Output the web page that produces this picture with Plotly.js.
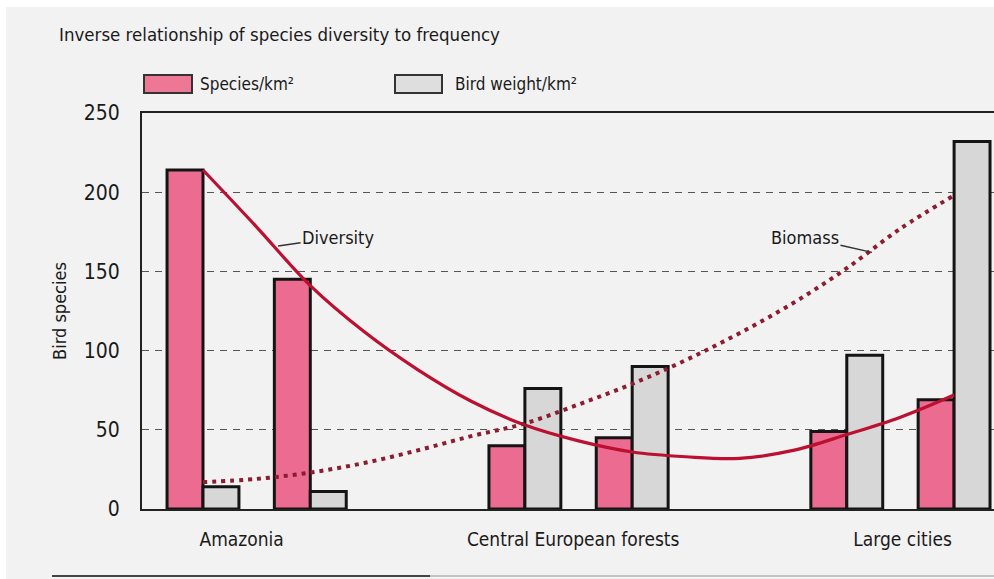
<!DOCTYPE html>
<html>
<head>
<meta charset="utf-8">
<script src="https://cdn.plot.ly/plotly-3.0.1.min.js"></script>
<style>
  html, body { margin: 0; padding: 0; background: #ffffff; }
  #chart { width: 994px; height: 579px; }
</style>
</head>
<body>
<div id="chart"></div>
<script>
// ---------- data ----------
const categories = ['Amazonia', 'Central European forests', 'Large cities'];
const seriesNames = ['Species/km\u00b2', 'Bird weight/km\u00b2'];
// two sample sites per region (pink = species, grey = bird weight)
const speciesPerKm2 = [214, 145, 40, 45, 49, 69];
const birdWeightPerKm2 = [14, 11, 76, 90, 97, 232];
const siteGroup = [0, 0, 1, 1, 2, 2];
const siteIndex = [0, 1, 0, 1, 0, 1];

// trend curves (position along the site axis, value)
const curveX = [0, 0.5, 1, 1.5, 2, 2.5, 3, 3.5, 4, 4.5, 5, 5.5, 6, 6.5, 7];
const diversityY = [214, 178, 141, 112, 88, 68, 53, 43, 36, 33, 32, 37, 47, 58, 72];
const biomassY = [17, 19, 23, 29, 37, 46, 54, 66, 79, 94, 111, 130, 152, 177, 198];

const title = 'Inverse relationship of species diversity to frequency';
const yTitle = 'Bird species';
const yTicks = [0, 50, 100, 150, 200, 250];

// ---------- layout helpers ----------
const siteX = siteGroup.map((g, i) => g * 3 + siteIndex[i]);
const groupCentre = categories.map((c, g) => g * 3 + 0.5);
const FONT = '"Liberation Sans Narrow", "DejaVu Sans Condensed", "Roboto Condensed", "Liberation Sans", sans-serif';
const BW = 0.335;

const traces = [
  {
    type: 'bar', x: siteX, y: speciesPerKm2, name: seriesNames[0],
    width: BW, offset: -BW,
    marker: { color: '#ec6b90', line: { color: '#141414', width: 3 } },
    showlegend: false, hoverinfo: 'y'
  },
  {
    type: 'bar', x: siteX, y: birdWeightPerKm2, name: seriesNames[1],
    width: BW, offset: 0,
    marker: { color: '#d7d7d7', line: { color: '#141414', width: 3 } },
    showlegend: false, hoverinfo: 'y'
  },
  {
    type: 'scatter', mode: 'lines', x: curveX, y: diversityY, name: 'Diversity',
    line: { color: '#bb1030', width: 3.2, shape: 'spline', smoothing: 1 },
    showlegend: false
  },
  {
    type: 'scatter', mode: 'lines', x: curveX, y: biomassY, name: 'Biomass',
    line: { color: '#8c1c30', width: 4, shape: 'spline', smoothing: 1, dash: '4px,5px' },
    showlegend: false
  }
];

const layout = {
  width: 994, height: 579,
  margin: { l: 142, r: 0, t: 113, b: 70 },
  paper_bgcolor: '#ffffff',
  plot_bgcolor: 'rgba(0,0,0,0)',
  font: { family: FONT, color: '#222', size: 16 },
  barmode: 'overlay',
  xaxis: {
    range: [-0.5685, 7.372],
    tickvals: [groupCentre[0] - 0.14, groupCentre[1] - 0.05, groupCentre[2] + 0.02],
    ticktext: categories,
    tickfont: { family: FONT, size: 19, color: '#1a1a1a' },
    ticks: '', ticklabelstandoff: 12,
    showgrid: false, zeroline: false,
    showline: true, linecolor: '#222', linewidth: 2, mirror: true
  },
  yaxis: {
    range: [0, 250],
    tickvals: yTicks,
    tickfont: { family: FONT, size: 21, color: '#1a1a1a' },
    ticks: '', ticklabelstandoff: 16,
    showgrid: true, gridcolor: '#555', gridwidth: 1.3, griddash: '7px,6px',
    zeroline: false,
    showline: true, linecolor: '#222', linewidth: 2,
    title: { text: yTitle, font: { family: FONT, size: 18, color: '#1a1a1a' }, standoff: 12 }
  },
  shapes: [
    // page background
    { type: 'rect', xref: 'paper', yref: 'paper', layer: 'below',
      x0: -136 / 852, x1: 1, y0: -70 / 396, y1: (396 + 106) / 396,
      fillcolor: '#f2f2f2', line: { width: 0 } },
    // legend swatches
    { type: 'rect', xref: 'paper', yref: 'paper',
      x0: (144 - 142) / 852, x1: (192 - 142) / 852,
      y0: (509 - 93) / 396, y1: (509 - 75) / 396,
      fillcolor: '#ef7796', line: { color: '#333', width: 2 } },
    { type: 'rect', xref: 'paper', yref: 'paper',
      x0: (395 - 142) / 852, x1: (442 - 142) / 852,
      y0: (509 - 93) / 396, y1: (509 - 75) / 396,
      fillcolor: '#dedede', line: { color: '#333', width: 2 } },
    // rule at the bottom of the page
    { type: 'line', xref: 'paper', yref: 'paper',
      x0: (52 - 142) / 852, x1: (430 - 142) / 852,
      y0: (509 - 576) / 396, y1: (509 - 576) / 396,
      line: { color: '#444', width: 2 } },
    { type: 'line', xref: 'paper', yref: 'paper',
      x0: (430 - 142) / 852, x1: 1,
      y0: (509 - 576) / 396, y1: (509 - 576) / 396,
      line: { color: '#c4c4c4', width: 2 } }
  ],
  annotations: [
    { xref: 'paper', yref: 'paper', x: (57 - 142) / 852, y: (509 - 34) / 396,
      xanchor: 'left', yanchor: 'middle', showarrow: false,
      text: title, font: { family: FONT, size: 18.5, color: '#1a1a1a' } },
    { xref: 'paper', yref: 'paper', x: (198 - 142) / 852, y: (509 - 84) / 396,
      xanchor: 'left', yanchor: 'middle', showarrow: false,
      text: seriesNames[0], font: { family: FONT, size: 17, color: '#1a1a1a' } },
    { xref: 'paper', yref: 'paper', x: (453 - 142) / 852, y: (509 - 84) / 396,
      xanchor: 'left', yanchor: 'middle', showarrow: false,
      text: seriesNames[1], font: { family: FONT, size: 17, color: '#1a1a1a' } },
    { x: 0.70, y: 166, xref: 'x', yref: 'y', text: 'Diversity',
      showarrow: true, arrowhead: 0, arrowwidth: 1.5, arrowcolor: '#333',
      ax: 60, ay: -9, font: { family: FONT, size: 18, color: '#1a1a1a' } },
    { x: 6.235, y: 162, xref: 'x', yref: 'y', text: 'Biomass',
      showarrow: true, arrowhead: 0, arrowwidth: 1.5, arrowcolor: '#333',
      ax: -67, ay: -15, font: { family: FONT, size: 18, color: '#1a1a1a' } }
  ]
};

Plotly.newPlot('chart', traces, layout, { displayModeBar: false, staticPlot: true });
</script>
</body>
</html>
